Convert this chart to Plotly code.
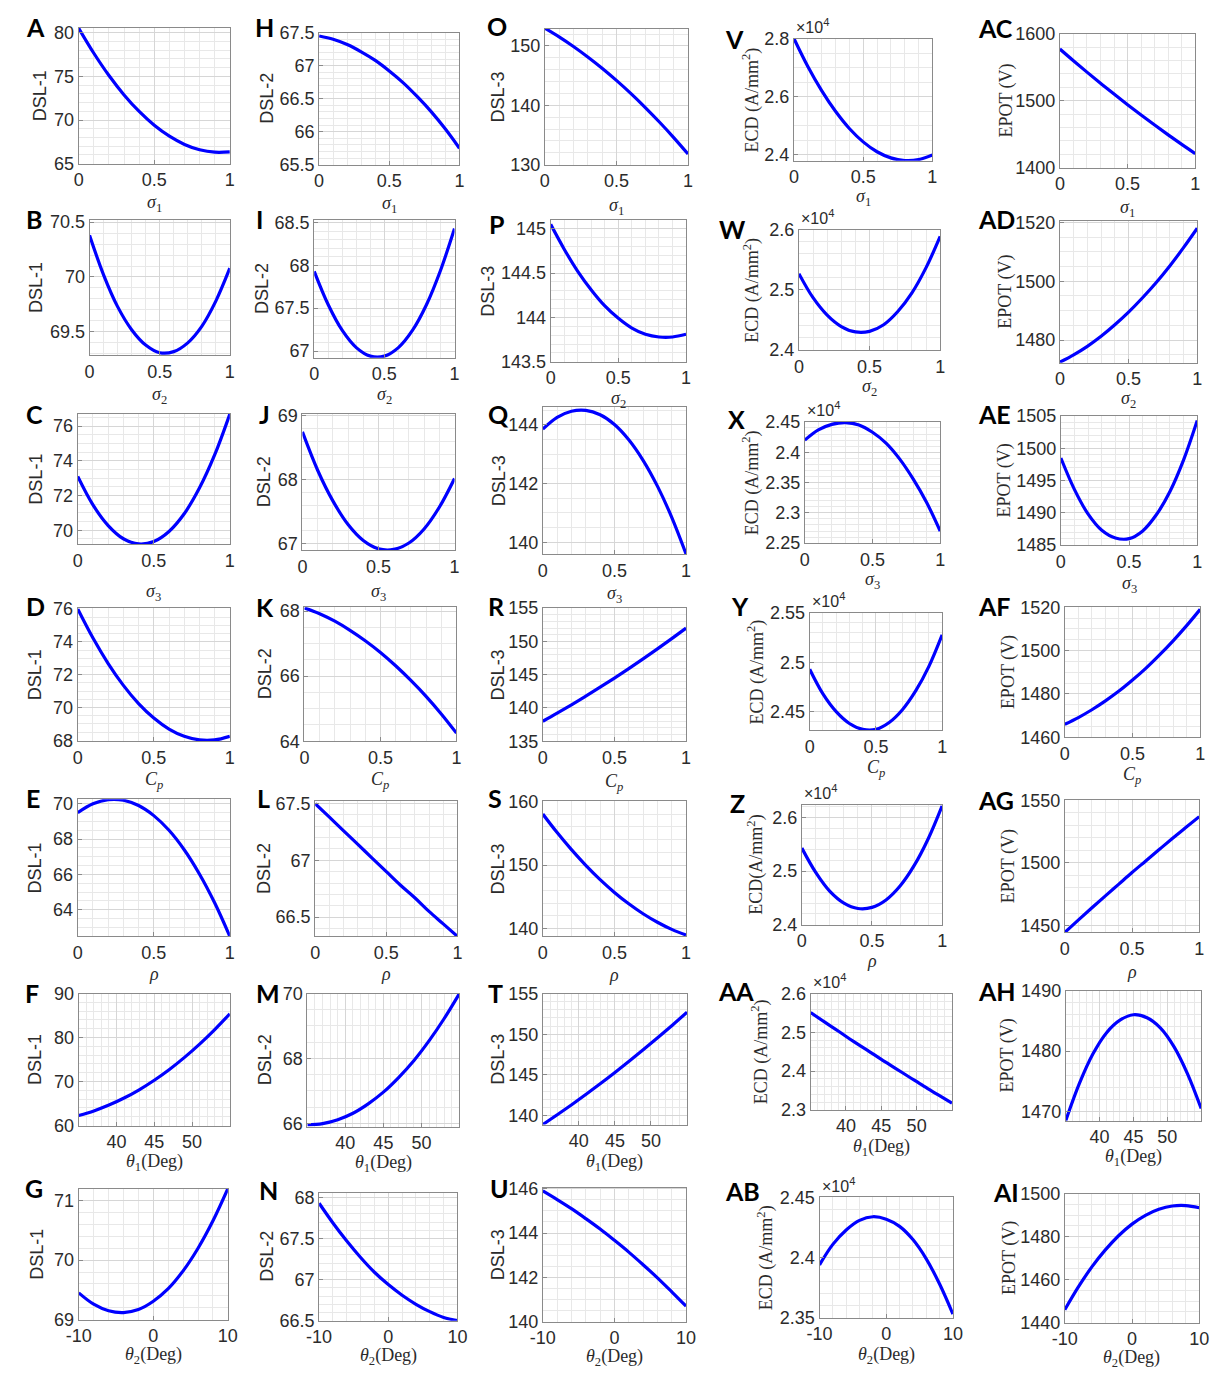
import plotly.graph_objects as go

PAGE_W, PAGE_H = 1220, 1377
FIG_W, FIG_H = PAGE_W, PAGE_H

# ---------------- x samples ----------------
sigma = [0.0, 0.1, 0.2, 0.3, 0.4, 0.5, 0.6, 0.7, 0.8, 0.9, 1.0]
theta1 = [35, 37, 39, 41, 43, 45, 47, 49, 51, 53, 55]
theta2 = [-10, -8, -6, -4, -2, 0, 2, 4, 6, 8, 10]

# ---------------- DSL-1 ----------------
dsl1_sigma1 = [80.5, 77.64, 75.09, 72.87, 70.98, 69.40, 68.15, 67.21, 66.60, 66.32, 66.35]
dsl1_sigma2 = [70.38, 70.02, 69.73, 69.52, 69.38, 69.31, 69.32, 69.40, 69.55, 69.78, 70.08]
dsl1_sigma3 = [73.10, 71.46, 70.27, 69.51, 69.21, 69.35, 69.93, 70.95, 72.43, 74.34, 76.70]
dsl1_cp = [76.00, 74.23, 72.68, 71.35, 70.24, 69.36, 68.69, 68.25, 68.03, 68.03, 68.25]
dsl1_rho = [69.50, 70.00, 70.23, 70.20, 69.90, 69.33, 68.50, 67.40, 66.03, 64.40, 62.50]
dsl1_theta1 = [62.3, 63.33, 64.65, 66.25, 68.13, 70.3, 72.75, 75.49, 78.51, 81.81, 85.4]
dsl1_theta2 = [69.45, 69.26, 69.15, 69.12, 69.17, 69.31, 69.52, 69.82, 70.20, 70.66, 71.20]

# ---------------- DSL-2 ----------------
dsl2_sigma1 = [67.45, 67.40, 67.32, 67.21, 67.08, 66.92, 66.74, 66.53, 66.30, 66.04, 65.75]
dsl2_sigma2 = [67.93, 67.54, 67.24, 67.04, 66.94, 66.94, 67.04, 67.24, 67.54, 67.94, 68.43]
dsl2_sigma3 = [68.75, 68.15, 67.67, 67.30, 67.05, 66.92, 66.91, 67.01, 67.23, 67.57, 68.02]
dsl2_cp = [68.10, 67.92, 67.69, 67.41, 67.09, 66.73, 66.32, 65.87, 65.38, 64.84, 64.25]
dsl2_rho = [67.50, 67.38, 67.26, 67.14, 67.02, 66.90, 66.78, 66.67, 66.55, 66.44, 66.33]
dsl2_theta1 = [65.95, 65.99, 66.11, 66.31, 66.60, 66.96, 67.41, 67.93, 68.54, 69.23, 70.00]
dsl2_theta2 = [67.93, 67.69, 67.47, 67.27, 67.09, 66.94, 66.81, 66.70, 66.61, 66.54, 66.50]

# ---------------- DSL-3 ----------------
dsl3_sigma1 = [153.0, 151.53, 149.91, 148.15, 146.25, 144.2, 142.01, 139.67, 137.19, 134.57, 131.8]
dsl3_sigma2 = [145.05, 144.77, 144.52, 144.31, 144.13, 143.99, 143.88, 143.81, 143.78, 143.78, 143.81]
dsl3_sigma3 = [143.85, 144.25, 144.46, 144.49, 144.34, 144.01, 143.49, 142.79, 141.91, 140.85, 139.60]
dsl3_cp = [138.0, 139.22, 140.48, 141.78, 143.12, 144.5, 145.92, 147.38, 148.88, 150.42, 152.0]
dsl3_rho = [158.0, 155.09, 152.41, 149.95, 147.71, 145.7, 143.91, 142.35, 141.01, 139.89, 139.0]
dsl3_theta1 = [138.9, 140.10, 141.34, 142.62, 143.94, 145.3, 146.70, 148.14, 149.62, 151.14, 152.7]
dsl3_theta2 = [145.9, 145.51, 145.10, 144.65, 144.18, 143.67, 143.14, 142.57, 141.98, 141.35, 140.7]

# ---------------- ECD (in units of 1e4 A/mm^2) ----------------
ecd_sigma1 = [2.800, 2.704, 2.621, 2.550, 2.491, 2.445, 2.411, 2.390, 2.381, 2.384, 2.400]
ecd_sigma2 = [2.527, 2.487, 2.458, 2.439, 2.430, 2.431, 2.442, 2.464, 2.495, 2.537, 2.589]
ecd_sigma3 = [2.420, 2.437, 2.446, 2.449, 2.445, 2.433, 2.415, 2.389, 2.356, 2.317, 2.270]
ecd_cp = [2.493, 2.468, 2.450, 2.438, 2.432, 2.432, 2.439, 2.452, 2.471, 2.496, 2.528]
ecd_rho = [2.543, 2.497, 2.462, 2.440, 2.430, 2.432, 2.446, 2.472, 2.510, 2.560, 2.622]
ecd_theta1 = [2.551, 2.526, 2.502, 2.477, 2.454, 2.430, 2.407, 2.384, 2.361, 2.339, 2.317]
ecd_theta2 = [2.394, 2.411, 2.423, 2.431, 2.434, 2.432, 2.426, 2.415, 2.399, 2.378, 2.353]

# ---------------- EPOT (V) ----------------
epot_sigma1 = [1577, 1559.6, 1542.6, 1526.0, 1509.8, 1494.0, 1478.6, 1463.6, 1449.0, 1434.8, 1421]
epot_sigma2 = [1472.5, 1475.0, 1477.9, 1481.3, 1485.2, 1489.5, 1494.3, 1499.5, 1505.2, 1511.4, 1518.0]
epot_sigma3 = [1498.5, 1493.6, 1489.8, 1487.3, 1486.1, 1486.0, 1487.2, 1489.7, 1493.3, 1498.2, 1504.3]
epot_cp = [1466.0, 1469.1, 1472.7, 1476.8, 1481.3, 1486.4, 1491.9, 1498.0, 1504.5, 1511.5, 1519.0]
epot_rho = [1444.5, 1454.3, 1464.0, 1473.5, 1482.9, 1492.3, 1501.4, 1510.5, 1519.5, 1528.3, 1537.0]
epot_theta1 = [1468.5, 1474.6, 1479.5, 1483.0, 1485.1, 1486.0, 1485.5, 1483.8, 1480.7, 1476.2, 1470.5]
epot_theta2 = [1446.0, 1456.5, 1465.8, 1473.7, 1480.4, 1485.8, 1489.9, 1492.7, 1494.2, 1494.4, 1493.4]

# ---------------- labels ----------------
x_labels = {
    "s1": "<i>σ</i><sub>1</sub>",
    "s2": "<i>σ</i><sub>2</sub>",
    "s3": "<i>σ</i><sub>3</sub>",
    "cp": "<i>C</i><sub><i>p</i></sub>",
    "rho": "<i>ρ</i>",
    "t1": "<i>θ</i><sub>1</sub>(Deg)",
    "t2": "<i>θ</i><sub>2</sub>(Deg)",
}
x_data = {"s1": sigma, "s2": sigma, "s3": sigma, "cp": sigma, "rho": sigma,
          "t1": theta1, "t2": theta2}
ECD_T = "ECD (A/mm<sup>2</sup>)"
ECD_T2 = "ECD(A/mm<sup>2</sup>)"
EPOT_T = "EPOT (V)"

# letter, xkind, y-data, y-title, serif-title?, ecd(x10^4)?, y-range, y-dtick, y-minor
panels = [
    ("A", "s1", dsl1_sigma1, "DSL-1", False, False, [65, 80.56], 5, 1),
    ("H", "s1", dsl2_sigma1, "DSL-2", False, False, [65.5, 67.5], 0.5, 0.1),
    ("O", "s1", dsl3_sigma1, "DSL-3", False, False, [130, 152.9], 10, 2),
    ("V", "s1", ecd_sigma1, ECD_T, True, True, [2.38, 2.8], 0.2, 0.05),
    ("AC", "s1", epot_sigma1, EPOT_T, True, False, [1400, 1600], 100, 20),

    ("B", "s2", dsl1_sigma2, "DSL-1", False, False, [69.29, 70.52], 0.5, 0.1),
    ("I", "s2", dsl2_sigma2, "DSL-2", False, False, [66.92, 68.53], 0.5, 0.1),
    ("P", "s2", dsl3_sigma2, "DSL-3", False, False, [143.5, 145.1], 0.5, 0.1),
    ("W", "s2", ecd_sigma2, ECD_T, True, True, [2.4, 2.6], 0.1, 0.02),
    ("AD", "s2", epot_sigma2, EPOT_T, True, False, [1472.3, 1520.5], 20, 5),

    ("C", "s3", dsl1_sigma3, "DSL-1", False, False, [69.2, 76.7], 2, 0.5),
    ("J", "s3", dsl2_sigma3, "DSL-2", False, False, [66.9, 69.03], 1, 0.2),
    ("Q", "s3", dsl3_sigma3, "DSL-3", False, False, [139.6, 144.6], 2, 0.5),
    ("X", "s3", ecd_sigma3, ECD_T, True, True, [2.25, 2.45], 0.05, 0.01),
    ("AE", "s3", epot_sigma3, EPOT_T, True, False, [1485, 1505], 5, 1),

    ("D", "cp", dsl1_cp, "DSL-1", False, False, [67.95, 76.05], 2, 0.5),
    ("K", "cp", dsl2_cp, "DSL-2", False, False, [64, 68.12], 2, 0.5),
    ("R", "cp", dsl3_cp, "DSL-3", False, False, [135, 155], 5, 1),
    ("Y", "cp", ecd_cp, ECD_T, True, True, [2.431, 2.55], 0.05, 0.01),
    ("AF", "cp", epot_cp, EPOT_T, True, False, [1460, 1520], 20, 5),

    ("E", "rho", dsl1_rho, "DSL-1", False, False, [62.5, 70.25], 2, 0.5),
    ("L", "rho", dsl2_rho, "DSL-2", False, False, [66.33, 67.52], 0.5, 0.1),
    ("S", "rho", dsl3_rho, "DSL-3", False, False, [138.8, 160], 10, 2),
    ("Z", "rho", ecd_rho, ECD_T2, True, True, [2.4, 2.623], 0.1, 0.02),
    ("AG", "rho", epot_rho, EPOT_T, True, False, [1444.5, 1550], 50, 10),

    ("F", "t1", dsl1_theta1, "DSL-1", False, False, [60, 90], 10, 2),
    ("M", "t1", dsl2_theta1, "DSL-2", False, False, [65.9, 70], 2, 0.5),
    ("T", "t1", dsl3_theta1, "DSL-3", False, False, [138.9, 155], 5, 1),
    ("AA", "t1", ecd_theta1, ECD_T, True, True, [2.3, 2.6], 0.1, 0.02),
    ("AH", "t1", epot_theta1, EPOT_T, True, False, [1468.5, 1490], 10, 2),

    ("G", "t2", dsl1_theta2, "DSL-1", False, False, [69, 71.2], 1, 0.2),
    ("N", "t2", dsl2_theta2, "DSL-2", False, False, [66.5, 68.06], 0.5, 0.1),
    ("U", "t2", dsl3_theta2, "DSL-3", False, False, [140, 146.05], 2, 0.5),
    ("AB", "t2", ecd_theta2, ECD_T, True, True, [2.35, 2.45], 0.05, 0.01),
    ("AI", "t2", epot_theta2, EPOT_T, True, False, [1440, 1500], 20, 5),
]

# ---------------- layout geometry (page pixels) ----------------
# plot box: left, top, right, bottom
boxes = [
    (67, 18, 221, 156), (312, 23, 455, 157), (542, 19, 688, 157), (796, 29, 937, 153), (1067, 24, 1205, 160),
    (78, 213, 221, 350), (307, 213, 450, 353), (548, 213, 686, 357), (801, 223, 945, 345), (1067, 214, 1207, 358),
    (66, 410, 221, 542), (295, 410, 450, 548), (540, 403, 686, 552), (807, 418, 945, 541), (1068, 412, 1207, 543),
    (66, 607, 221, 742), (297, 606, 452, 742), (540, 607, 686, 742), (812, 612, 947, 731), (1072, 606, 1210, 738),
    (66, 801, 221, 940), (308, 803, 453, 940), (540, 803, 686, 940), (804, 807, 947, 928), (1072, 802, 1209, 936),
    (67, 998, 221, 1132), (300, 998, 455, 1133), (540, 998, 687, 1131), (813, 998, 957, 1116), (1073, 995, 1211, 1127),
    (67, 1196, 219, 1329), (312, 1200, 453, 1330), (540, 1195, 686, 1331), (822, 1205, 958, 1327), (1072, 1201, 1209, 1332),
]
# y-title centre x
ytitle_x = [27, 259, 494, 752, 1013,
            24, 254, 484, 753, 1012,
            24, 256, 495, 752, 1011,
            22, 257, 494, 757, 1014,
            22, 256, 494, 757, 1014,
            22, 257, 494, 761, 1014,
            25, 259, 494, 767, 1015]
# x-title centre y
xtitle_y = [196, 197, 199, 190, 201,
            391, 391, 395, 383, 395,
            591, 591, 593, 579, 583,
            782, 782, 784, 770, 777,
            978, 978, 979, 965, 976,
            1169, 1170, 1169, 1154, 1164,
            1365, 1366, 1367, 1365, 1368]
# panel letter: left x, centre y
letter_pos = [(11, 17), (245, 17), (481, 16), (724, 29), (982, 18),
              (11, 212), (246, 212), (483, 217), (718, 222), (982, 212),
              (11, 410), (249, 410), (482, 410), (727, 415), (982, 410),
              (11, 605), (246, 606), (482, 605), (730, 605), (982, 605),
              (11, 800), (247, 800), (482, 800), (729, 805), (982, 802),
              (10, 997), (246, 997), (482, 997), (716, 995), (982, 995),
              (10, 1195), (249, 1197), (484, 1195), (724, 1198), (997, 1199)]

x_axis_cfg = {
    "s": dict(range=[0, 1], tickvals=[0, 0.5, 1], ticktext=["0", "0.5", "1"], minor=0.1),
    "t1": dict(range=[35, 55], tickvals=[40, 45, 50], ticktext=["40", "45", "50"], minor=1),
    "t2": dict(range=[-10, 10], tickvals=[-10, 0, 10], ticktext=["-10", "0", "10"], minor=2),
}

SANS = "Liberation Sans, Arial, sans-serif"
SERIF = "Liberation Serif, Times New Roman, serif"
TXT = "#2b2b2b"
GRID = "#d6d6d6"
MINOR = "#e8e8e8"
BOXC = "#8a8a8a"

fig = go.Figure()
layout = dict(
    width=FIG_W, height=FIG_H,
    margin=dict(l=0, r=0, t=0, b=0),
    paper_bgcolor="white", plot_bgcolor="white",
    showlegend=False,
    annotations=[],
)


def px_x(v):
    return v / FIG_W


def px_y(v):
    return 1 - v / FIG_H


for i, (letter, xk, ydat, ytitle, serif, ecd, yr, ydt, ymin) in enumerate(panels):
    n = i + 1
    ax = "" if n == 1 else str(n)
    L, T, R, B = boxes[i]
    fig.add_trace(go.Scatter(
        x=x_data[xk], y=ydat, mode="lines",
        line=dict(color="#0000ff", width=3.2, shape="spline", smoothing=1.0),
        xaxis="x" + ax, yaxis="y" + ax, hoverinfo="skip",
    ))
    xc = x_axis_cfg["s" if xk not in ("t1", "t2") else xk]
    layout["xaxis" + ax] = dict(
        domain=[px_x(L), px_x(R)], anchor="y" + ax, range=xc["range"],
        tickmode="array", tickvals=xc["tickvals"], ticktext=xc["ticktext"],
        showgrid=True, gridcolor=GRID, gridwidth=1,
        minor=dict(tickmode="linear", tick0=0, dtick=xc["minor"], showgrid=True,
                   gridcolor=MINOR, gridwidth=1, ticks=""),
        ticks="inside", ticklen=4, tickcolor=BOXC,
        showline=True, linecolor=BOXC, linewidth=1, mirror=True,
        zeroline=False, tickfont=dict(family=SANS, size=18, color=TXT),
        fixedrange=True,
    )
    layout["yaxis" + ax] = dict(
        domain=[px_y(B), px_y(T)], anchor="x" + ax, range=yr,
        tickmode="linear", tick0=0, dtick=ydt,
        showgrid=True, gridcolor=GRID, gridwidth=1,
        minor=dict(tickmode="linear", tick0=0, dtick=ymin, showgrid=True,
                   gridcolor=MINOR, gridwidth=1, ticks=""),
        ticks="inside", ticklen=4, tickcolor=BOXC,
        showline=True, linecolor=BOXC, linewidth=1, mirror=True,
        zeroline=False, tickfont=dict(family=SANS, size=18, color=TXT),
        fixedrange=True,
    )
    # panel letter
    lx, ly = letter_pos[i]
    layout["annotations"].append(dict(
        text="<b>%s</b>" % letter, x=px_x(lx), y=px_y(ly), xref="paper", yref="paper",
        xanchor="left", yanchor="middle", showarrow=False,
        font=dict(family="Lato, Open Sans, sans-serif", size=25, color="black")))
    # y title
    layout["annotations"].append(dict(
        text=ytitle, x=px_x(ytitle_x[i]), y=px_y((T + B) / 2), xref="paper", yref="paper",
        xanchor="center", yanchor="middle", textangle=-90, showarrow=False,
        font=dict(family=SERIF if serif else SANS, size=18, color=TXT)))
    # x title
    layout["annotations"].append(dict(
        text=x_labels[xk], x=px_x((L + R) / 2), y=px_y(xtitle_y[i]), xref="paper", yref="paper",
        xanchor="center", yanchor="middle", showarrow=False,
        font=dict(family=SERIF, size=18, color=TXT)))
    # exponent
    if ecd:
        layout["annotations"].append(dict(
            text="×10<sup>4</sup>", x=px_x(L), y=px_y(T - 1), xref="paper", yref="paper",
            xanchor="left", yanchor="bottom", showarrow=False,
            font=dict(family=SANS, size=16, color=TXT)))

fig.update_layout(**layout)
# remove the default 8px page margin so the figure fills the window exactly
fig.write_html("out.html",
               post_script="document.body.style.margin='0px';document.body.style.overflow='hidden';")
